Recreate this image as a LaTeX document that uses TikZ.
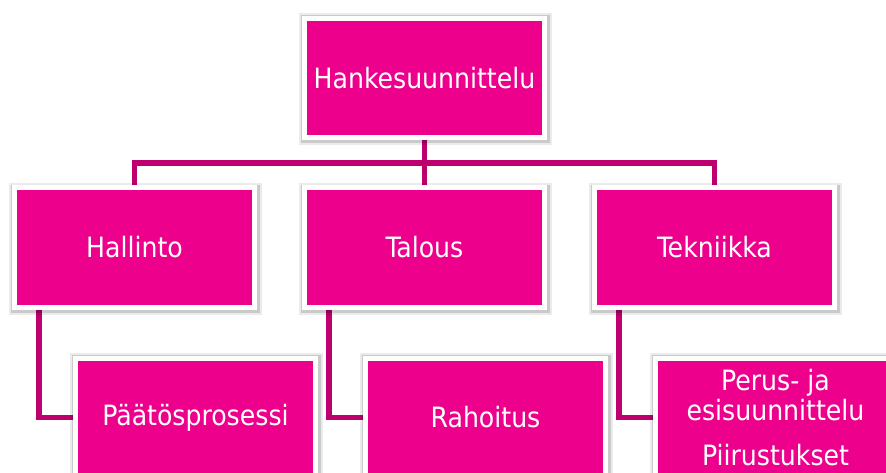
\documentclass[tikz,border=0pt]{standalone}
\usepackage{fontspec}
\setmainfont{DejaVu Sans Condensed}
\usepackage{xcolor}
\usepackage{tikz}
\usetikzlibrary{backgrounds,calc,positioning}

\definecolor{hkpink}{RGB}{236,0,140}
\definecolor{hkline}{RGB}{190,0,110}

\begin{document}
\begin{tikzpicture}[x=1pt,y=-1pt]

\useasboundingbox (0,0) rectangle (886,473);

\tikzstyle{hkshade} = [preaction={draw=black, draw opacity=0.08, line width=13pt, transform canvas={xshift=1pt,yshift=-1.5pt}}, preaction={draw=black, draw opacity=0.14, line width=9pt, transform canvas={xshift=1pt,yshift=-1.5pt}}]
\tikzstyle{hkbox} = [hkshade, fill=hkpink, draw=white, line width=5pt, rectangle, minimum width=240pt, minimum height=119pt, text=white, font=\fontsize{28}{30}\selectfont, align=center]
\tikzstyle{conn} = [draw=hkline, line width=5.5pt]

% top level
\node (top) [hkbox] at (424.5,78) {Hankesuunnittelu};

% second row
\node (hallinto) [hkbox] at (134.5,247.5) {Hallinto};
\node (talous) [hkbox,right=45pt of hallinto] {Talous};
\node (tekniikka) [hkbox,right=45pt of talous] {Tekniikka};

% third row
\node (paatos) [hkbox] at (195.5,417.5) {Päätösprosessi};
\node (rahoitus) [hkbox,right=45pt of paatos] {Rahoitus};
\node (suunnittelu) [hkbox,right=45pt of rahoitus] {Perus- ja\\esisuunnittelu\\[15pt]Piirustukset};

\coordinate (bus) at (424.5,163);

\begin{scope}[on background layer]
\draw [conn] (top.south) -- (talous.north);
\draw [conn] (hallinto.north) |- (bus) -| (tekniikka.north);
\draw [conn] ($(hallinto.south west)+(27,0)$) |- (paatos.west);
\draw [conn] ($(talous.south west)+(27,0)$) |- (rahoitus.west);
\draw [conn] ($(tekniikka.south west)+(27,0)$) |- (suunnittelu.west);
\end{scope}

\end{tikzpicture}
\end{document}
